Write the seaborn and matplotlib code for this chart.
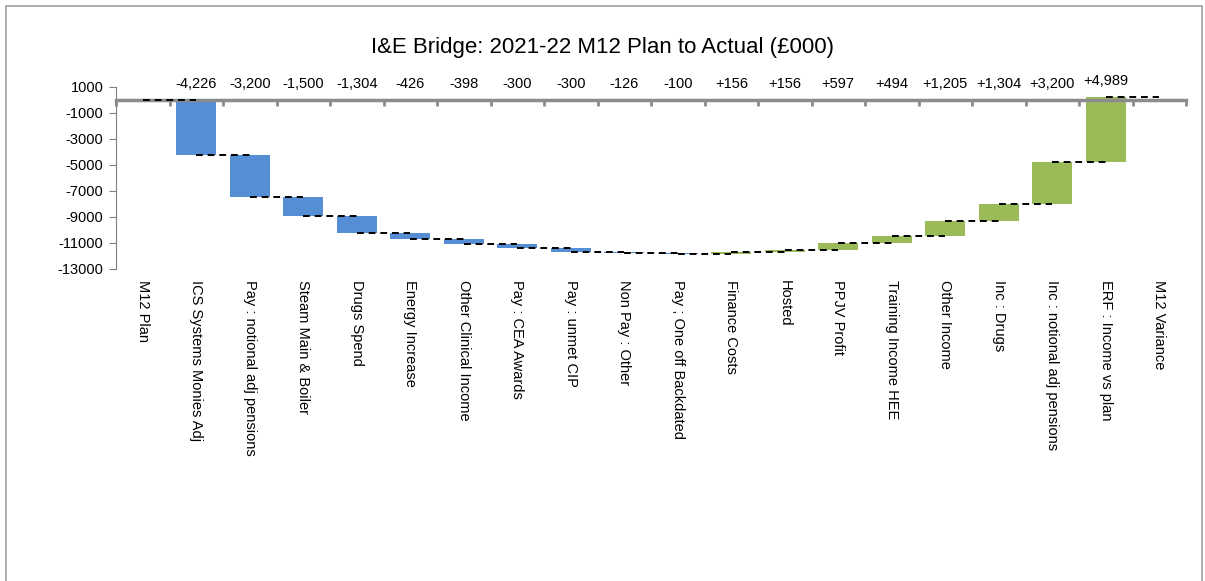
import numpy as np
import pandas as pd
import matplotlib
matplotlib.use("Agg")
import matplotlib.pyplot as plt
import seaborn as sns
from matplotlib.patches import Rectangle

# ---- data ----
categories = ["M12 Plan", "ICS Systems Monies Adj", "Pay : notional adj pensions",
              "Steam Main & Boiler", "Drugs Spend", "Energy Increase",
              "Other Clinical Income", "Pay : CEA Awards", "Pay : unmet CIP",
              "Non Pay : Other", "Pay ; One off Backdated", "Finance Costs",
              "Hosted", "PPJV Profit", "Training Income HEE", "Other Income",
              "Inc : Drugs", "Inc : notional adj pensions", "ERF : Income vs plan",
              "M12 Variance"]
changes = [0, -4226, -3200, -1500, -1304, -426, -398, -300, -300, -126, -100,
           156, 156, 597, 494, 1205, 1304, 3200, 4989, 0]
kinds = ["total"] + ["neg"] * 10 + ["pos"] * 8 + ["total"]
y_ticks = [1000, -1000, -3000, -5000, -7000, -9000, -11000, -13000]
title = "I&E Bridge: 2021-22 M12 Plan to Actual (£000)"

blue = "#558ED5"
green = "#9BBB59"

sns.set_theme(style="white")
plt.rcParams["font.family"] = ["Liberation Sans", "DejaVu Sans"]

n = len(categories)
changes_arr = np.array(changes, dtype=float)
cum_after = np.cumsum(changes_arr)
start = cum_after - changes_arr

df = pd.DataFrame({"cat": categories, "change": changes_arr, "kind": kinds})

fig = plt.figure(figsize=(12.05, 5.81), dpi=100)
ax = fig.add_axes([116 / 1205, 1 - 269 / 581, (1186 - 116) / 1205, 182 / 581])

sns.barplot(data=df, x="cat", y="change", hue="kind", order=categories,
            palette={"neg": blue, "pos": green, "total": (1, 1, 1, 0)},
            saturation=1, dodge=False, legend=False, width=0.75, ax=ax,
            edgecolor="none", linewidth=0, zorder=2)

for p in ax.patches:
    idx = int(round(p.get_x() + p.get_width() / 2))
    if 0 <= idx < n:
        p.set_y(start[idx])
        p.set_height(changes_arr[idx])
        if kinds[idx] == "total":
            p.set_visible(False)

# connector dashed lines
for i in range(n - 1):
    ax.plot([i, i + 1], [cum_after[i], cum_after[i]], color="black",
            linestyle=(0, (3.5, 2.5)), linewidth=1.4, zorder=4)

ax.set_xlim(-0.5, n - 0.5)
ax.set_ylim(-13000, 1000)
ax.set_yticks(y_ticks)
ax.set_yticklabels([str(t) for t in y_ticks], fontsize=10.5, color="black")
ax.tick_params(axis="y", direction="out", length=5, width=0.8, color="#808080", pad=4, left=True)

# zero axis with boundary ticks
ax.spines["bottom"].set_position(("data", 0))
ax.spines["bottom"].set_color("#8c8c8c")
ax.spines["bottom"].set_linewidth(2.5)
ax.spines["bottom"].set_zorder(3)
ax.set_xticks(np.arange(-0.5, n, 1.0))
ax.set_xticklabels([])
ax.tick_params(axis="x", direction="out", length=4, width=2, color="#8c8c8c", bottom=True)
ax.set_xlabel("")
ax.set_ylabel("")
for s in ["top", "right"]:
    ax.spines[s].set_visible(False)
ax.spines["left"].set_color("#808080")
ax.spines["left"].set_linewidth(0.8)

# category labels below plot area
for i, c in enumerate(categories):
    ax.text(i, -0.06, c, transform=ax.get_xaxis_transform(), rotation=270,
            ha="center", va="top", fontsize=10.5, color="black", clip_on=False)

# value labels above
for i in range(1, n - 1):
    top = max(start[i], cum_after[i], 0)
    ax.text(i, 1250 + top, f"{int(changes_arr[i]):+,}", ha="center", va="center",
            fontsize=10.5, color="black", clip_on=False)

fig.text(0.5, 1 - 47 / 581, title, ha="center", va="center", fontsize=16, color="black")

fig.patches.append(Rectangle((6 / 1205, -0.01), (1202 - 6) / 1205, 1 - 6 / 581 + 0.01,
                             transform=fig.transFigure, fill=False,
                             edgecolor="#a0a0a0", linewidth=1.2))

fig.savefig("out.png", dpi=100, facecolor="white")
